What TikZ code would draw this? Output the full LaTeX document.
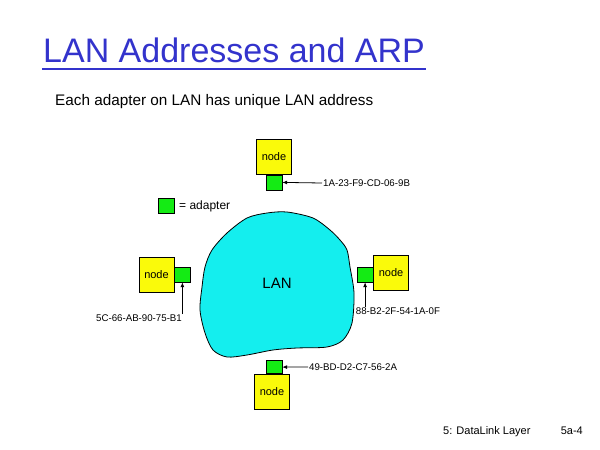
\documentclass[tikz,border=0pt]{standalone}
\usepackage{fontspec}
\setmainfont{Liberation Sans}
\usetikzlibrary{arrows.meta}
\definecolor{ttlb}{RGB}{51,51,204}
\definecolor{hsty}{RGB}{250,250,10}
\definecolor{adpg}{RGB}{20,235,20}
\definecolor{lanc}{RGB}{20,238,238}
\tikzset{
    hostbox/.style={draw=black,fill=hsty,inner sep=0pt,minimum width=35pt,minimum height=35pt,font=\fontsize{11}{13}\selectfont},
    adapt/.style={draw=black,fill=adpg,inner sep=0pt,minimum width=16pt,minimum height=15pt},
    maclab/.style={inner sep=1pt,font=\fontsize{9.7}{11}\selectfont},
    macarr/.style={-{Latex[length=5pt,width=4pt]},line width=0.8pt}
}
\begin{document}
\begin{tikzpicture}[x=1pt,y=-1pt]
            \useasboundingbox (0,0) rectangle (600,450);
            % title
            \node [anchor=base west,text=ttlb,font=\fontsize{34}{40}\selectfont,inner xsep=1pt,inner ysep=0pt] (title) at (42,62) {LAN Addresses and ARP};
            \draw [ttlb,line width=2pt] ([yshift=-6.5pt]title.base west) -- ([yshift=-6.5pt]title.base east);
            \node [anchor=base west,inner sep=0pt,font=\fontsize{15.3}{18}\selectfont] (subt) at (55,105) {Each adapter on LAN has unique LAN address};
            % the LAN cloud
            \draw [fill=lanc,line width=0.8pt] plot [smooth cycle] coordinates {
                (287,212) (313,218) (330,230) (340,240) (347,250) (350,267)
                (354,293) (352,323) (343,340) (327,347) (297,348) (273,350)
                (247,355) (227,357) (213,350) (205,333) (200,310) (202,287)
                (205,267) (212,250) (227,233) (247,218) (267,213)
            };
            \node [font=\fontsize{15}{18}\selectfont] (lan) at (277,283) {LAN};
            % legend
            \node [adapt] (aplegend) at (166,205.5) {};
            \node [anchor=west,inner sep=0pt,font=\fontsize{12}{14}\selectfont] (legtxt) at (179,206) {= adapter};
            % hosts and adapters
            \node [hostbox] (ntop) at (274,157) {node};
            \node [adapt,anchor=north] (aptop) at (ntop.south) {};
            \node [hostbox] (nleft) at (156.5,274.5) {node};
            \node [adapt,anchor=west] (apleft) at (nleft.east) {};
            \node [hostbox] (nright) at (391,272.5) {node};
            \node [adapt,anchor=east] (apright) at ([yshift=-2pt]nright.west) {};
            \node [hostbox] (nbot) at (272,391.5) {node};
            \node [adapt,anchor=south,minimum height=13pt] (apbot) at ([xshift=2pt]nbot.north) {};
            % addresses
            \node [maclab,anchor=west] (mactop) at (322,183) {1A-23-F9-CD-06-9B};
            \draw [macarr] (mactop.west) -- (aptop.east);
            \node [maclab,anchor=north] (macleft) at (139,314) {5C-66-AB-90-75-B1};
            \draw [macarr] (macleft.north -| apleft.south) -- (apleft.south);
            \node [maclab,anchor=north] (macright) at (398,307) {88-B2-2F-54-1A-0F};
            \draw [macarr] (macright.north -| apright.south) -- (apright.south);
            \node [maclab,anchor=west] (macbot) at (308,367) {49-BD-D2-C7-56-2A};
            \draw [macarr] (macbot.west) -- (apbot.east);
            % footer
            \node [anchor=base west,inner sep=0pt,font=\fontsize{11}{13}\selectfont] (foot) at (443,434) {5: DataLink Layer};
            \node [anchor=base east,inner sep=0pt,font=\fontsize{11}{13}\selectfont] (pageno) at (583,434) {5a-4};
        \end{tikzpicture}
\end{document}
